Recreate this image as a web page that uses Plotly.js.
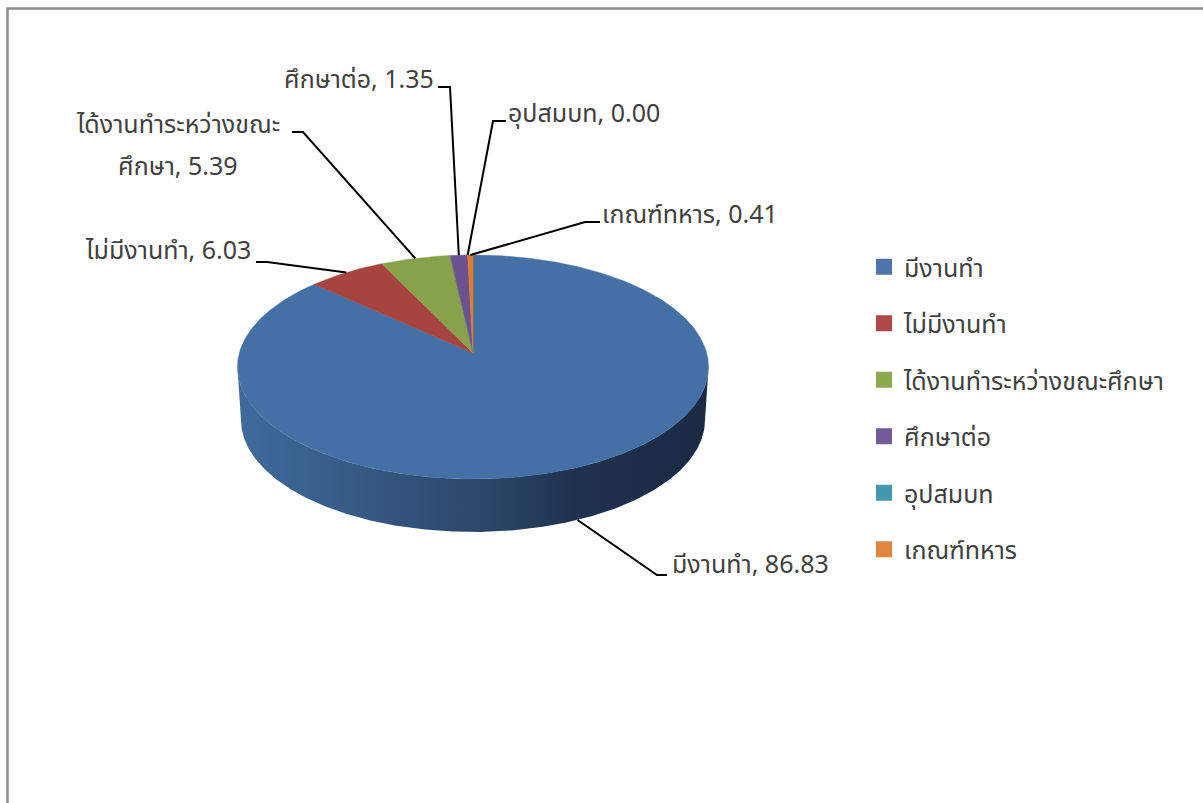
<!DOCTYPE html>
<html>
<head>
<meta charset="utf-8">
<script src="https://cdn.plot.ly/plotly-3.0.1.min.js"></script>
<style>html,body{margin:0;padding:0;background:#fff;}#chart{width:1203px;height:803px;}</style>
</head>
<body>
<div id="chart"></div>
<script>
// ---- data ----
const categories = ['มีงานทำ', 'ไม่มีงานทำ', 'ได้งานทำระหว่างขณะศึกษา', 'ศึกษาต่อ', 'อุปสมบท', 'เกณฑ์ทหาร'];
const values = [86.83, 6.03, 5.39, 1.35, 0.00, 0.41];
const valueLabels = ['86.83', '6.03', '5.39', '1.35', '0.00', '0.41'];

// ---- styles ----
const topColors = ['#4570a6', '#a6443f', '#87a24a', '#6c5290', '#3f93ab', '#e07c2e'];
const legendColors = ['#4a74aa', '#ad4a47', '#8ba94f', '#745a98', '#4499b0', '#e0873d'];
const sideScales = [
  [[0, '#3f6a9d'], [0.3, '#34577f'], [0.55, '#2a4466'], [0.72, '#1f3250'], [1, '#1b2a43']],
  [[0, '#7a302d'], [1, '#4a1c1a']],
  [[0, '#637a35'], [1, '#3c4a20']],
  [[0, '#503c6b'], [1, '#302440']],
  [[0, '#2e6d80'], [1, '#1c424d']],
  [[0, '#a85a20'], [1, '#653614']]
];
const FONT = "Tahoma, 'Leelawadee UI', 'Noto Sans Thai', 'Noto Sans', 'DejaVu Sans', sans-serif";
const TEXT_COLOR = '#404040';
const FS = 25;

// ---- geometry (perspective projection of pie disk, pixel space) ----
const CX = 473, A = 353, B = -66.1, C = 0.125, D = 233.7, DEPTH = 53, BOTSCALE = 0.985;
function proj(theta, bottom) {
  const s = Math.sin(theta), w = Math.cos(theta), den = 1 + C * w;
  const k = bottom ? BOTSCALE : 1;
  return [CX + k * D * s / den, (A + B * w) / den + (bottom ? DEPTH : 0)];
}
function arc(a0, a1, bottom) {
  const n = Math.max(2, Math.ceil(Math.abs(a1 - a0) / (Math.PI / 360)));
  const xs = [], ys = [];
  for (let i = 0; i <= n; i++) {
    const p = proj(a0 + (a1 - a0) * i / n, bottom);
    xs.push(p[0]); ys.push(p[1]);
  }
  return [xs, ys];
}

const total = values.reduce((a, b) => a + b, 0);
const starts = [], ends = [];
let acc = 0;
values.forEach(v => { starts.push(acc / total * 2 * Math.PI); acc += v; ends.push(acc / total * 2 * Math.PI); });

const TH_R = Math.acos(-C), TH_L = 2 * Math.PI - Math.acos(-C);
const traces = [];

// side faces
values.forEach((v, i) => {
  if (v <= 0) return;
  const lo = Math.max(starts[i], TH_R), hi = Math.min(ends[i], TH_L);
  if (lo >= hi) return;
  const t = arc(lo, hi, false), b = arc(hi, lo, true);
  traces.push({
    type: 'scatter', mode: 'lines', x: t[0].concat(b[0]), y: t[1].concat(b[1]),
    fill: 'toself', line: {width: 0, color: 'rgba(0,0,0,0)'},
    fillgradient: {type: 'horizontal', colorscale: sideScales[i], start: CX - D, stop: CX + D},
    showlegend: false, hoverinfo: 'skip'
  });
});

// top faces
values.forEach((v, i) => {
  if (v <= 0) return;
  const t = arc(starts[i], ends[i], false);
  traces.push({
    type: 'scatter', mode: 'lines', x: [CX].concat(t[0], [CX]), y: [A].concat(t[1], [A]),
    fill: 'toself', fillcolor: topColors[i], line: {width: 0.5, color: topColors[i]},
    showlegend: false, hoverinfo: 'skip'
  });
});

// label layout: text position/anchor and leader-line elbow (pixel space)
const labelLayout = [
  {tx: 670, ty: 565, anchor: 'left', lx: [667, 657], ly: 575},
  {tx: 253, ty: 251, anchor: 'right', lx: [256, 267], ly: 262},
  {tx: 178, ty: 125, anchor: 'center', lx: [292, 303], ly: 132, line2y: 167},
  {tx: 436, ty: 80, anchor: 'right', lx: [438, 450], ly: 87},
  {tx: 506, ty: 114, anchor: 'left', lx: [506, 493], ly: 121},
  {tx: 600, ty: 215, anchor: 'left', lx: [600, 585], ly: 222}
];

// leader lines
values.forEach((v, i) => {
  const mid = (starts[i] + ends[i]) / 2;
  const front = mid > TH_R && mid < TH_L && Math.cos(mid) < -0.3;
  const p = proj(mid, front);
  const L = labelLayout[i];
  traces.push({
    type: 'scatter', mode: 'lines', x: [L.lx[0], L.lx[1], p[0]], y: [L.ly, L.ly, p[1]],
    line: {color: '#000000', width: 2}, showlegend: false, hoverinfo: 'skip'
  });
});

// legend entries
categories.forEach((c, i) => {
  traces.push({
    type: 'scatter', mode: 'markers', x: [null], y: [null], name: c, legendgroup: 'g' + i,
    marker: {symbol: 'square', size: 16, color: legendColors[i]}, showlegend: true, hoverinfo: 'skip'
  });
});

// annotations
const annotations = [];
values.forEach((v, i) => {
  const L = labelLayout[i];
  if (L.line2y !== undefined) {
    annotations.push({x: L.tx, y: L.ty, xref: 'x', yref: 'y', text: 'ได้งานทำระหว่างขณะ', showarrow: false, xanchor: 'center', yanchor: 'middle', font: {family: FONT, size: FS, color: TEXT_COLOR}});
    annotations.push({x: L.tx, y: L.line2y, xref: 'x', yref: 'y', text: 'ศึกษา, ' + valueLabels[i], showarrow: false, xanchor: 'center', yanchor: 'middle', font: {family: FONT, size: FS, color: TEXT_COLOR}});
  } else {
    annotations.push({x: L.tx, y: L.ty, xref: 'x', yref: 'y', text: categories[i] + ', ' + valueLabels[i], showarrow: false, xanchor: L.anchor, yanchor: 'middle', font: {family: FONT, size: FS, color: TEXT_COLOR}});
  }
});

const layout = {
  width: 1203, height: 803,
  margin: {l: 0, r: 0, t: 0, b: 0},
  paper_bgcolor: '#ffffff', plot_bgcolor: '#ffffff',
  xaxis: {range: [0, 1203], visible: false, fixedrange: true},
  yaxis: {range: [803, 0], visible: false, fixedrange: true},
  showlegend: true,
  legend: {x: 864 / 1203, y: 1 - 244 / 803, xanchor: 'left', yanchor: 'top', tracegroupgap: 21,
           font: {family: FONT, size: FS, color: TEXT_COLOR}, bgcolor: 'rgba(0,0,0,0)', itemclick: false, itemdoubleclick: false},
  shapes: [{type: 'rect', xref: 'x', yref: 'y', x0: 7.5, y0: 8.5, x1: 1220, y1: 820,
            line: {color: '#8a8a8a', width: 2.5}, fillcolor: 'rgba(0,0,0,0)'}],
  annotations: annotations,
  hovermode: false
};

Plotly.newPlot('chart', traces, layout, {displayModeBar: false, staticPlot: true});
</script>
</body>
</html>
